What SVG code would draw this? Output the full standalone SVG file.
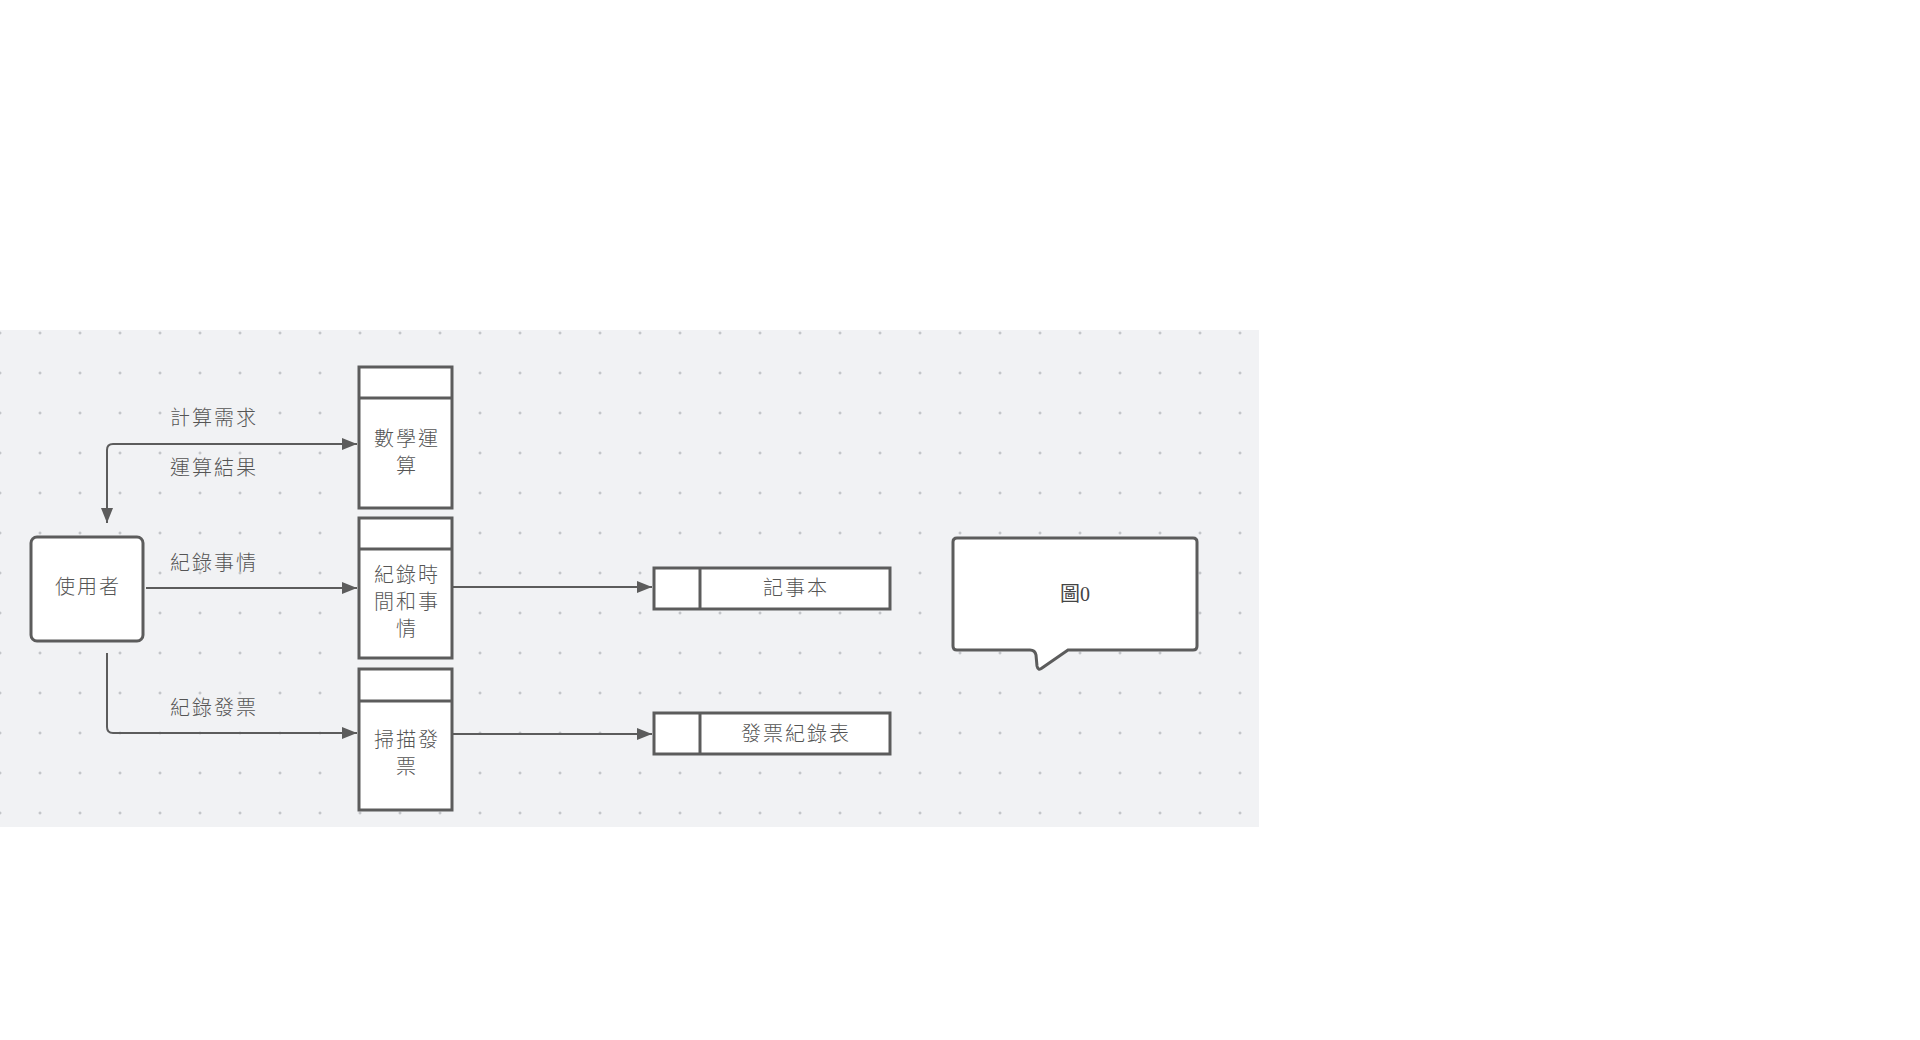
<svg xmlns="http://www.w3.org/2000/svg" width="1920" height="1040" viewBox="0 0 1920 1040">
<defs>
<pattern id="grid" patternUnits="userSpaceOnUse" x="-20" y="-7" width="40" height="40">
<path d="M18.5 20H21.5M20 18.5V21.5" stroke="#b4b6ba" stroke-width="1"/>
</pattern>
<marker id="arr" viewBox="0 0 15 12" refX="15" refY="6" markerWidth="15" markerHeight="12" markerUnits="userSpaceOnUse" orient="auto">
<path d="M0 0L15 6L0 12Z" fill="#5c5c5c"/>
</marker>
<marker id="arrs" viewBox="0 0 15 12" refX="15" refY="6" markerWidth="15" markerHeight="12" markerUnits="userSpaceOnUse" orient="auto-start-reverse">
<path d="M0 0L15 6L0 12Z" fill="#5c5c5c"/>
</marker>
</defs>
<style>
.box{fill:#ffffff;stroke:#5c5c5c;stroke-width:3}
.ln{fill:none;stroke:#5c5c5c;stroke-width:2}
.t{font-family:"Noto Sans CJK TC","Noto Sans CJK SC",sans-serif;font-size:20px;font-weight:300;fill:#555555;text-anchor:middle;dominant-baseline:central;letter-spacing:2px}
.s{font-family:"Liberation Serif","Noto Sans CJK TC",serif;font-size:20px;fill:#444444;text-anchor:middle;dominant-baseline:central}
</style>
<rect x="0" y="330" width="1259" height="497" fill="#f1f2f4"/>
<rect x="0" y="330" width="1259" height="497" fill="url(#grid)"/>

<g id="connectors">
<path class="ln" d="M357 444H113Q107 444 107 450V523" marker-start="url(#arrs)" marker-end="url(#arr)"/>
<path class="ln" d="M146 588H357" marker-end="url(#arr)"/>
<path class="ln" d="M107 653V727Q107 733 113 733H357" marker-end="url(#arr)"/>
<path class="ln" d="M452 587H652" marker-end="url(#arr)"/>
<path class="ln" d="M452 734H652" marker-end="url(#arr)"/>
<text class="t" x="214" y="416">計算需求</text>
<text class="t" x="214" y="466">運算結果</text>
<text class="t" x="214" y="561">紀錄事情</text>
<text class="t" x="214" y="706">紀錄發票</text>
</g>

<g id="user">
<rect class="box" x="31" y="537" width="112" height="104" rx="6"/>
<text class="t" x="88" y="585">使用者</text>
</g>

<g id="math">
<rect class="box" x="359" y="367" width="93" height="141"/>
<line class="box" x1="359" y1="398" x2="452" y2="398"/>
<text class="t" x="407" y="437">數學運</text>
<text class="t" x="407" y="464">算</text>
</g>

<g id="record">
<rect class="box" x="359" y="518" width="93" height="140"/>
<line class="box" x1="359" y1="549" x2="452" y2="549"/>
<text class="t" x="407" y="573">紀錄時</text>
<text class="t" x="407" y="600">間和事</text>
<text class="t" x="407" y="627">情</text>
</g>

<g id="scan">
<rect class="box" x="359" y="669" width="93" height="141"/>
<line class="box" x1="359" y1="701" x2="452" y2="701"/>
<text class="t" x="407" y="738">掃描發</text>
<text class="t" x="407" y="765">票</text>
</g>

<g id="notebook">
<rect class="box" x="654" y="568" width="236" height="41"/>
<line class="box" x1="700" y1="568" x2="700" y2="609"/>
<text class="t" x="796" y="586">記事本</text>
</g>

<g id="invoice">
<rect class="box" x="654" y="713" width="236" height="41"/>
<line class="box" x1="700" y1="713" x2="700" y2="754"/>
<text class="t" x="796" y="732">發票紀錄表</text>
</g>

<g id="callout">
<path class="box" d="M957 538H1193Q1197 538 1197 542V646Q1197 650 1193 650H1068L1042 668Q1038 671 1037 666L1036 655Q1035 650 1030 650H957Q953 650 953 646V542Q953 538 957 538Z"/>
<text class="s" x="1075" y="594">圖0</text>
</g>
</svg>
